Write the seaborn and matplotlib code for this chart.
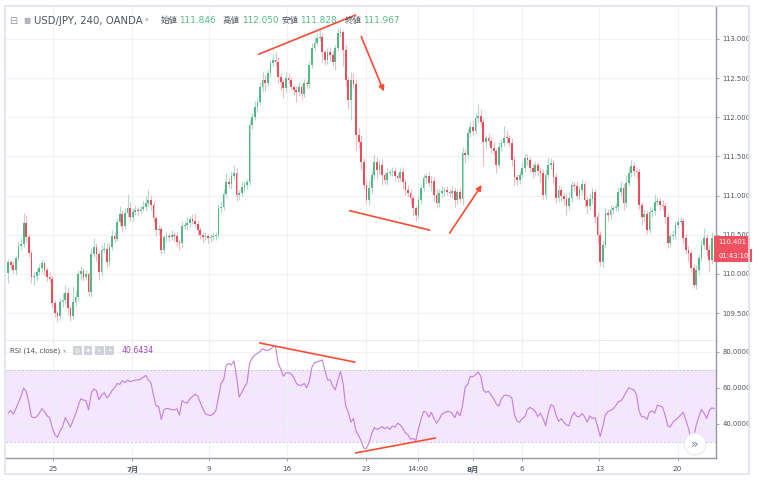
import numpy as np
import pandas as pd
import matplotlib
matplotlib.use("Agg")
import matplotlib.pyplot as plt
import matplotlib.transforms as mtransforms
from matplotlib.patches import Rectangle
import seaborn as sns

sns.set_theme(style="white")
plt.rcParams['font.family'] = ['DejaVu Sans', 'Noto Sans CJK JP']

# ---------------- data (USD/JPY 4h, OANDA) ----------------
first_open = 110.01
close = [
    110.15, 110.11, 110.05, 110.20, 110.36, 110.38, 110.65, 110.47, 110.27, 109.96,
    109.97, 110.02, 110.08, 110.14, 110.05, 109.96, 109.94, 109.63, 109.50, 109.46,
    109.64, 109.67, 109.76, 109.56, 109.46, 109.64, 109.71, 110.00, 110.04, 109.96,
    110.00, 109.77, 110.25, 110.34, 110.25, 110.02, 110.31, 110.32, 110.15, 110.34,
    110.48, 110.45, 110.66, 110.77, 110.61, 110.78, 110.84, 110.73, 110.79, 110.82,
    110.80, 110.83, 110.85, 110.90, 110.94, 110.88, 110.71, 110.56, 110.57, 110.31,
    110.47, 110.48, 110.47, 110.50, 110.48, 110.41, 110.39, 110.61, 110.62, 110.65,
    110.70, 110.68, 110.64, 110.56, 110.50, 110.47, 110.48, 110.46, 110.47, 110.48,
    110.50, 110.84, 110.85, 111.02, 111.17, 111.15, 111.25, 111.29, 111.01, 111.03,
    111.11, 111.14, 111.17, 111.90, 112.00, 112.13, 112.20, 112.39, 112.48, 112.44,
    112.57, 112.69, 112.73, 112.71, 112.52, 112.45, 112.37, 112.50, 112.48, 112.39,
    112.35, 112.32, 112.39, 112.30, 112.44, 112.43, 112.67, 112.89, 112.95, 113.01,
    113.03, 112.83, 112.73, 112.83, 112.80, 112.71, 112.89, 113.08, 113.09, 112.86,
    112.48, 112.22, 112.48, 112.43, 111.77, 111.69, 111.43, 111.14, 110.94, 111.10,
    111.26, 111.43, 111.33, 111.39, 111.26, 111.20, 111.29, 111.30, 111.31, 111.25,
    111.22, 111.30, 111.17, 111.07, 111.03, 110.97, 110.84, 110.75, 110.94, 111.10,
    111.22, 111.25, 111.16, 111.19, 111.01, 110.90, 111.03, 111.06, 111.07, 111.05,
    111.03, 111.06, 110.94, 111.05, 110.96, 111.54, 111.52, 111.80, 111.88, 111.83,
    111.99, 112.02, 111.94, 111.68, 111.74, 111.70, 111.61, 111.57, 111.39, 111.62,
    111.67, 111.74, 111.73, 111.67, 111.46, 111.24, 111.20, 111.26, 111.35, 111.48,
    111.45, 111.35, 111.30, 111.39, 111.31, 111.29, 111.01, 111.26, 111.39, 111.42,
    111.24, 110.97, 111.07, 110.99, 110.96, 110.87, 110.97, 111.13, 111.12, 110.99,
    111.07, 111.15, 110.94, 110.87, 110.95, 111.05, 110.73, 110.50, 110.15, 110.37,
    110.78, 110.75, 110.82, 110.84, 110.85, 111.05, 111.10, 110.90, 111.16, 111.29,
    111.38, 111.31, 111.30, 110.88, 110.73, 110.77, 110.56, 110.79, 110.80, 110.92,
    110.93, 110.88, 110.87, 110.73, 110.39, 110.48, 110.50, 110.63, 110.66, 110.68,
    110.46, 110.31, 110.27, 110.08, 109.86, 110.05, 110.20, 110.37, 110.46, 110.31,
    110.18, 110.46, 110.40]

# upper / lower wick lengths in pips (0.01 JPY)
upper_wick_pips = [
    4, 3, 5, 3, 6, 8, 13, 10, 4, 3,
    6, 4, 5, 5, 3, 4, 6, 3, 4, 3,
    5, 8, 10, 6, 4, 20, 8, 5, 6, 4,
    5, 3, 8, 12, 6, 4, 6, 9, 7, 5,
    8, 5, 6, 10, 4, 6, 18, 8, 5, 6,
    4, 5, 8, 10, 15, 7, 5, 3, 6, 4,
    3, 5, 4, 6, 3, 5, 4, 6, 5, 8,
    4, 6, 10, 5, 4, 3, 5, 3, 4, 5,
    3, 5, 8, 6, 12, 5, 6, 10, 6, 4,
    6, 5, 4, 6, 5, 8, 4, 6, 10, 6,
    5, 4, 8, 10, 6, 5, 4, 8, 5, 3,
    4, 5, 6, 3, 5, 4, 5, 6, 8, 5,
    10, 4, 3, 5, 6, 4, 3, 6, 5, 3,
    6, 5, 10, 8, 6, 10, 8, 5, 6, 8,
    5, 10, 6, 5, 8, 4, 6, 4, 5, 6,
    4, 5, 6, 4, 6, 5, 4, 3, 5, 4,
    6, 4, 5, 6, 5, 8, 5, 6, 4, 5,
    4, 6, 5, 4, 6, 8, 6, 5, 6, 8,
    6, 15, 8, 5, 4, 6, 5, 8, 4, 6,
    5, 15, 10, 4, 6, 5, 4, 6, 8, 6,
    5, 4, 6, 5, 4, 6, 5, 8, 10, 6,
    4, 5, 6, 4, 5, 6, 8, 5, 4, 6,
    5, 6, 4, 5, 8, 5, 4, 6, 5, 6,
    8, 5, 6, 4, 5, 6, 8, 5, 10, 6,
    8, 5, 4, 5, 4, 6, 5, 6, 4, 10,
    5, 4, 6, 4, 5, 4, 6, 5, 6, 5,
    4, 5, 4, 3, 4, 6, 5, 6, 12, 5,
    6, 8, 5]
lower_wick_pips = [
    13, 5, 4, 6, 3, 5, 4, 6, 5, 8,
    10, 6, 4, 5, 6, 5, 4, 6, 5, 8,
    4, 6, 5, 8, 6, 3, 5, 4, 6, 5,
    4, 5, 6, 3, 8, 10, 5, 4, 8, 5,
    4, 6, 3, 5, 6, 4, 5, 6, 5, 4,
    6, 4, 3, 5, 4, 6, 5, 8, 6, 5,
    4, 6, 5, 4, 6, 5, 8, 5, 4, 6,
    5, 4, 3, 6, 5, 8, 4, 6, 5, 4,
    5, 4, 6, 3, 4, 5, 6, 4, 8, 5,
    4, 6, 5, 4, 5, 3, 6, 4, 5, 10,
    4, 5, 3, 6, 8, 10, 12, 5, 6, 4,
    6, 12, 5, 8, 4, 5, 6, 4, 5, 3,
    4, 12, 6, 5, 8, 6, 10, 4, 5, 20,
    8, 12, 25, 6, 20, 8, 10, 5, 4, 6,
    8, 5, 10, 6, 12, 5, 6, 4, 5, 6,
    5, 4, 8, 6, 5, 8, 10, 8, 4, 5,
    4, 6, 5, 10, 8, 6, 4, 5, 6, 4,
    5, 6, 8, 5, 6, 8, 10, 4, 5, 6,
    4, 5, 6, 30, 8, 5, 6, 5, 10, 4,
    5, 4, 6, 5, 8, 10, 6, 5, 4, 5,
    6, 5, 8, 4, 6, 12, 5, 6, 4, 5,
    8, 6, 5, 6, 8, 12, 6, 5, 6, 4,
    5, 6, 8, 10, 5, 6, 8, 10, 5, 6,
    4, 8, 5, 6, 4, 5, 6, 8, 5, 4,
    5, 6, 8, 5, 10, 6, 5, 4, 6, 5,
    4, 6, 5, 8, 6, 5, 4, 6, 5, 4,
    8, 6, 10, 5, 4, 5, 6, 4, 5, 8,
    15, 5, 4]

rsi_values = [
    46, 47.5, 45.5, 48.5, 52, 55.5, 60, 58, 52, 44,
    43.5, 44, 46, 48.5, 47, 44.5, 43.5, 38, 34, 32.6,
    36, 38.5, 43.5, 41, 38.3, 42, 45.5, 50, 54, 53.3,
    53, 47.8, 57, 59.5, 58.5, 53.5, 56, 57.4, 54.5, 56,
    58.5, 60, 62.5, 62, 64, 63, 64.4, 63.5, 64, 64.3,
    64.5, 64.8, 65.9, 67, 64.5, 63, 56, 50, 49.6, 42.5,
    47.8, 48.7, 48.4, 48, 47.8, 48.5, 45, 53, 52, 51.5,
    54, 55.2, 56.5, 55.5, 52, 48.5, 45.8, 45, 44.7, 45.5,
    47.5, 54.5, 62.5, 64.4, 72.5, 73.7, 72.8, 75, 66, 55,
    57.5, 60.5, 62.6, 73.7, 76.5, 78.3, 79.2, 80.3, 81.8, 81,
    80.8, 81.5, 82.8, 83, 73.7, 70.5, 66.5, 68.3, 68.5, 67.8,
    66, 62.6, 61.5, 61.5, 62.5, 60, 63.8, 71.5, 74, 74.5,
    75, 75.6, 70, 64.4, 64.6, 61, 59, 64.4, 69.1, 62.6,
    50, 46.7, 41, 43, 36, 33.5, 30.5, 26.5, 26.5, 29.5,
    34.5, 38, 37, 37.6, 38.5, 37.3, 38.3, 37, 38.9, 38.2,
    40.4, 39.5, 37.6, 35, 34, 31.5, 32, 30.8, 37, 42.5,
    47, 46.5, 43.8, 46.5, 43, 40.5, 42.5, 45.4, 46.3, 46.9,
    46.9, 45.9, 43.5, 47, 44.5, 50, 60.5, 62, 66.5, 66.2,
    67.5, 68.9, 66.6, 59, 57.5, 58.2, 56, 54, 51, 50,
    54, 55.8, 56, 55.5, 54.5, 45, 41.6, 41, 43, 44,
    48, 49.2, 48.3, 47, 44.1, 46, 43, 39, 46, 50.7,
    50, 45, 41.5, 43, 41, 39.5, 39, 44, 46.5, 44.2,
    44, 45.8, 44, 41, 44.5, 43, 43.5, 39, 33, 38.5,
    45, 46.9, 47.5, 48.4, 50.2, 52.5, 52.8, 55, 57.6, 60.1,
    59.5, 59, 56.1, 47, 44.1, 44, 42.5, 46.5, 47.3, 46,
    50.4, 50, 49.5, 45, 39, 38.3, 41, 42.2, 43.5, 45,
    46.5, 42.2, 37.6, 31.5, 32, 39.5, 44, 48, 46, 43,
    47.5, 49, 48.5]

date_tick_pos = [17.3, 47.9, 77.4, 107.4, 137.7, 157.8, 178.9, 197.8, 227.7, 257.8]
date_tick_labels = ['25', '7月', '9', '16', '23', '14:00', '8月', '6', '13', '20']
price_ticks = [109.5, 110.0, 110.5, 111.0, 111.5, 112.0, 112.5, 113.0]
rsi_ticks = [40, 60, 80]
last_price = 110.401
countdown = '01:43:10'

# drawn annotations (bar index, value)
price_lines = [((96.5, 112.805), (133.8, 113.306)), ((131.5, 110.807), (162.3, 110.56))]
price_arrows = [((136.0, 113.03), (144.7, 112.33)), ((170.0, 110.52), (182.4, 111.135))]
rsi_lines = [((96.9, 85.0), (133.5, 74.4)), ((133.8, 23.9), (164.6, 32.2))]

# ---------------- frame ----------------
n = len(close)
closes = np.array(close)
opens = np.r_[first_open, closes[:-1]]
highs = np.maximum(opens, closes) + np.array(upper_wick_pips) / 100
lows = np.minimum(opens, closes) - np.array(lower_wick_pips) / 100
df = pd.DataFrame(dict(bar=np.arange(n), open=opens, close=closes,
                       high=highs, low=lows, rsi=rsi_values))
df['up'] = df['close'] >= df['open']

UP, DN = '#53b987', '#eb4d5c'
UPW, DNW = '#b3d9cf', '#f6b9bf'
GRID = '#eef1f5'
AXC = '#9598a1'
TXT = '#4c525e'
ANN = '#ff4b33'

W, H = 759, 484
fig = plt.figure(figsize=(W / 100, H / 100), dpi=100)
ax = fig.add_axes([6 / W, 1 - 341 / H, 710 / W, 335 / H])
ax2 = fig.add_axes([6 / W, 1 - 458 / H, 710 / W, 117 / H], sharex=ax)

# outer frame
fig.patches.append(Rectangle((5 / W, 10 / H), 744 / W, 468 / H, transform=fig.transFigure,
                             fill=False, ec='#e0e3eb', lw=1.2, zorder=0))

# ---- candles ----
wcol = np.where(df['up'], UPW, DNW)
bcol = np.where(df['up'], UP, DN)
ax.vlines(df['bar'], df['low'], df['high'], colors=wcol, lw=0.8, zorder=2)
body_h = np.maximum((df['close'] - df['open']).abs(), 0.012)
body_b = np.minimum(df['open'], df['close'])
ax.bar(df['bar'], body_h, bottom=body_b, width=0.66, color=bcol, lw=0, zorder=3)

ax.set_xlim(-0.8, 272.6)
ax.set_ylim(109.143, 113.421)

for ax_ in (ax, ax2):
    ax_.set_facecolor('white')
    ax_.yaxis.tick_right()
    ax_.set_xticks(date_tick_pos)
    ax_.grid(True, color=GRID, lw=0.8, zorder=0)
    ax_.set_axisbelow(True)
    for s in ('left', 'top'):
        ax_.spines[s].set_visible(False)
    for s in ('right', 'bottom'):
        ax_.spines[s].set_color(AXC)
        ax_.spines[s].set_linewidth(1.0)
    ax_.tick_params(axis='y', which='both', right=True, left=False, length=2.5,
                    width=0.6, color=AXC, labelsize=4.9, labelcolor=TXT, pad=2)

ax.set_yticks(price_ticks)
ax.set_yticklabels([f'{v:.3f}' for v in price_ticks])
ax.tick_params(axis='x', bottom=False, labelbottom=False)

# ---- RSI ----
ax2.axhspan(30, 70, color='#f3e6fe', lw=0, zorder=0)
for lvl in (30, 70):
    ax2.axhline(lvl, color='#c8c8d2', lw=0.7, ls=(0, (2, 2)), zorder=1)
sns.lineplot(data=df, x='bar', y='rsi', ax=ax2, color='#c77dde', lw=0.8, zorder=3)
ax2.set_ylim(21.1, 86.1)
ax2.set_yticks(rsi_ticks)
ax2.set_yticklabels([f'{v:.4f}' for v in rsi_ticks])
ax2.set_xlabel('')
ax2.set_ylabel('')
ax.set_xlabel('')
ax.set_ylabel('')
ax2.set_xticklabels(date_tick_labels)
ax2.tick_params(axis='x', bottom=True, length=2.5, width=0.6, color=AXC,
                labelsize=5.2, labelcolor=TXT, pad=3)
for lab in ax2.get_xticklabels():
    if '月' in lab.get_text():
        lab.set_fontweight('bold')

# ---- annotations ----
for (x0, y0), (x1, y1) in price_lines:
    ax.plot([x0, x1], [y0, y1], color=ANN, lw=1.2, zorder=5, clip_on=False)
for (x0, y0), (x1, y1) in price_arrows:
    ax.annotate('', xy=(x1, y1), xytext=(x0, y0),
                arrowprops=dict(arrowstyle='-|>', color=ANN, lw=1.2,
                                mutation_scale=8, shrinkA=0, shrinkB=0), zorder=5)
for (x0, y0), (x1, y1) in rsi_lines:
    ax2.plot([x0, x1], [y0, y1], color=ANN, lw=1.2, zorder=5, clip_on=False)

# ---- last price labels ----
trans = mtransforms.blended_transform_factory(ax.transAxes, ax.transData)
for txt, yv in ((f'{last_price:.3f}', last_price), (countdown, last_price - 0.168)):
    ax.text(1.003, yv, txt, transform=trans, ha='left', va='center',
            fontsize=4.9, color='white', zorder=6,
            bbox=dict(boxstyle='square,pad=0.55', fc='#ef5161', ec='none'))

# ---- legends / headers ----
def ftxt(px, py, s, **kw):
    fig.text(px / W, 1 - py / H, s, va='center', ha='left', **kw)

ftxt(9, 20.5, '⊟', fontsize=7, color='#9598a1')
ftxt(23, 20.5, '■', fontsize=5.5, color='#b2b5be')
ftxt(34, 20.5, 'USD/JPY, 240, OANDA', fontsize=7.3, color=TXT)
ftxt(145, 20.5, '▾', fontsize=5, color='#b2b5be')
hdr = [('始値', '111.846', 161, 179), ('高値', '112.050', 222, 242),
       ('安値', '111.828', 282, 300), ('終値', '111.967', 345, 363)]
for lab, val, xl, xv in hdr:
    ftxt(xl, 20.5, lab, fontsize=6.1, color=TXT)
    ftxt(xv, 20.5, val, fontsize=6.4, color=UP)

ftxt(10, 350.7, 'RSI (14, close)', fontsize=5.0, color=TXT)
ftxt(63, 350.7, '▾', fontsize=4.2, color='#b2b5be')
for k, g in enumerate(['◎', '◈', '+', '×']):
    ftxt(75 + k * 10.8, 350.7, g, fontsize=4.2, color='white',
         bbox=dict(boxstyle='square,pad=0.35', fc='#cfd2d8', ec='none'))
ftxt(122, 350.7, '40.6434', fontsize=5.6, color='#a23fb8')

fig.text(695 / W, 1 - 444 / H, '»', ha='center', va='center', fontsize=9,
         color='#6a83a6',
         bbox=dict(boxstyle='circle,pad=0.35', fc='white', ec='#e6e8ee', lw=0.8))

fig.savefig('out.png', dpi=100, facecolor='white')
